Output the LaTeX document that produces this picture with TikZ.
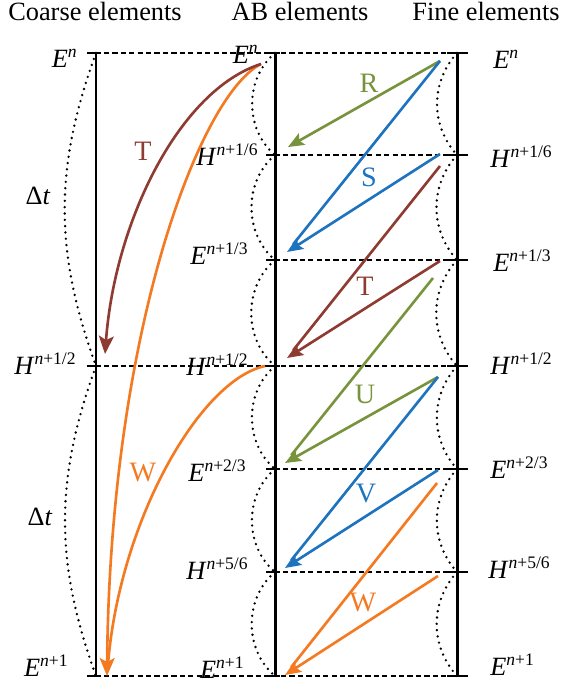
\documentclass[tikz,border=0pt]{standalone}
\usepackage{fontspec}
\setmainfont{Liberation Serif}
\usepackage{tikz}
\usepackage{xcolor}
\usetikzlibrary{arrows.meta, calc}
\definecolor{AB_Green}{HTML}{77933C}
\definecolor{AB_Blue}{HTML}{1E73BE}
\definecolor{AB_Brown}{HTML}{8E3B32}
\definecolor{AB_Orange}{HTML}{F47A22}
% field at a time level: letter, then the superscript after n
\newcommand{\fld}[2]{\textit{#1}\raisebox{0.38em}{\fontsize{10}{10}\selectfont\textit{n}#2}}

\begin{document}
\begin{tikzpicture}[
    x=0.02cm, y=-0.02cm,
    col/.style={line width=1.7pt, black},
    lvl/.style={dash pattern=on 3pt off 1.8pt, line width=0.7pt},
    tick/.style={line width=1.2pt},
    arc/.style={line width=1.5pt, dash pattern=on 0pt off 3.6pt, line cap=round},
    lab/.style={font=\fontsize{15}{18}\selectfont, inner sep=0pt},
    ttl/.style={font=\fontsize{15}{18}\selectfont, inner sep=0pt, anchor=base},
    ltr/.style={font=\fontsize{16}{19}\selectfont, inner sep=0pt},
    grn/.style={draw=AB_Green, line width=1.5pt},
    blu/.style={draw=AB_Blue, line width=1.5pt},
    brn/.style={draw=AB_Brown, line width=1.5pt},
    org/.style={draw=AB_Orange, line width=1.5pt},
    arr/.style={-{Stealth[length=3.2mm, width=2.6mm, inset=0.6mm]}},
    bigarr/.style={-{Stealth[length=3.6mm, width=3mm, inset=0.8mm]}}
]
\useasboundingbox (0,0) rectangle (562,688);

% titles
\node[ttl] (tcoarse) at (95,21) {Coarse elements};
\node[ttl] (tab) at (300,21) {AB elements};
\node[ttl] (tfine) at (486,21) {Fine elements};

% time levels on the three columns
\coordinate (c0) at (96,53);
\coordinate (c3) at (96,366);
\coordinate (c6) at (96,676);
\foreach \k/\y in {0/53,1/155,2/260,3/366,4/469,5/572,6/676} {
    \coordinate (a\k) at (275,\y);
    \coordinate (f\k) at (457,\y);
}

% dashed levels
\foreach \k in {0,3,6}
    \draw[lvl] ($(c\k)+(-9,0)$) -- ($(f\k)+(11,0)$);
\foreach \k in {1,2,4,5}
    \draw[lvl] ($(a\k)+(-9,0)$) -- ($(f\k)+(11,0)$);
\foreach \k in {0,3,6}
    \draw[tick] ($(c\k)+(-9,0)$) -- ($(c\k)+(5,0)$);
\foreach \k in {0,...,6} {
    \draw[tick] ($(a\k)+(-9,0)$) -- ($(a\k)+(5,0)$);
    \draw[tick] ($(f\k)+(-10,0)$) -- ($(f\k)+(11,0)$);
}

% dotted arcs
\draw[arc] (c0) to[bend right=20] (c3);
\draw[arc] (c3) to[bend right=20] (c6);
\foreach \k/\j in {0/1,1/2,2/3,3/4,4/5,5/6} {
    \draw[arc] (a\k) to[bend right=50] (a\j);
    \draw[arc] (f\k) to[bend right=42] (f\j);
}

% columns
\draw[col] (c0) -- (c6);
\draw[col] (a0) -- (a6);
\draw[col] (f0) -- (f6);

% coarse labels
\node[lab, anchor=east] (cE0) at (77,58) {\fld{E}{}};
\node[lab] (dt1) at (38,196) {Δ\textit{t}};
\node[lab, anchor=east] (cH3) at (76,364) {\fld{H}{+1/2}};
\node[lab] (dt2) at (40,517) {Δ\textit{t}};
\node[lab, anchor=east] (cE6) at (68,666) {\fld{E}{+1}};

% AB labels
\node[lab, anchor=east] (aE0) at (258,54) {\fld{E}{}};
\node[lab, anchor=east] (aH1) at (258,155) {\fld{H}{+1/6}};
\node[lab, anchor=east] (aE2) at (248,254) {\fld{E}{+1/3}};
\node[lab, anchor=east] (aH3) at (248,365) {\fld{H}{+1/2}};
\node[lab, anchor=east] (aE4) at (246,471) {\fld{E}{+2/3}};
\node[lab, anchor=east] (aH5) at (248,569) {\fld{H}{+5/6}};
\node[lab, anchor=east] (aE6) at (244,668) {\fld{E}{+1}};

% fine labels
\node[lab, anchor=west] (fE0) at (493,59) {\fld{E}{}};
\node[lab, anchor=west] (fH1) at (490,157) {\fld{H}{+1/6}};
\node[lab, anchor=west] (fE2) at (493,261) {\fld{E}{+1/3}};
\node[lab, anchor=west] (fH3) at (490,364) {\fld{H}{+1/2}};
\node[lab, anchor=west] (fE4) at (490,468) {\fld{E}{+2/3}};
\node[lab, anchor=west] (fH5) at (488,568) {\fld{H}{+5/6}};
\node[lab, anchor=west] (fE6) at (490,665) {\fld{E}{+1}};

% arrow ends
\coordinate (r0) at (440,61);
\coordinate (r1) at (288,147);
\coordinate (s0) at (440,61);
\coordinate (s1) at (440,154);
\coordinate (s2) at (287,252);
\coordinate (t0) at (440,166);
\coordinate (t1) at (440,261);
\coordinate (t2) at (287,358);
\coordinate (u0) at (433,278);
\coordinate (u1) at (438,377);
\coordinate (u2) at (285,463);
\coordinate (v0) at (438,377);
\coordinate (v1) at (438,470);
\coordinate (v2) at (285,568);
\coordinate (w0) at (437,483);
\coordinate (w1) at (438,576);
\coordinate (w2) at (285,675);
\coordinate (ct0) at (261,64);
\coordinate (ct1) at (105,354);
\coordinate (cw0) at (261,64);
\coordinate (cw1) at (265,366);
\coordinate (cw2) at (107,676);

% coarse arrows
\draw[org, bigarr] (cw0) .. controls (200,95) and (110,330) .. (cw2);
\draw[org, shorten >=2.5mm] (cw1) .. controls (200,380) and (120,520) .. (cw2);
\draw[brn, bigarr] (ct0) .. controls (180,90) and (115,220) .. (ct1);
\node[ltr, text=AB_Brown] (lT0) at (143,151) {T};
\node[ltr, text=AB_Orange] (lW0) at (143,473) {W};

% fine to AB arrows
\draw[grn, arr] (r0) -- (r1);
\draw[blu, shorten >=2mm] (s0) -- (s2);
\draw[blu, arr] (s1) -- (s2);
\draw[brn, shorten >=2mm] (t0) -- (t2);
\draw[brn, arr] (t1) -- (t2);
\draw[grn, shorten >=2mm] (u0) -- (u2);
\draw[grn, arr] (u1) -- (u2);
\draw[blu, shorten >=2mm] (v0) -- (v2);
\draw[blu, arr] (v1) -- (v2);
\draw[org, shorten >=2mm] (w0) -- (w2);
\draw[org, arr] (w1) -- (w2);
\node[ltr, text=AB_Green] (lR) at (369,83) {R};
\node[ltr, text=AB_Blue] (lS) at (369,177) {S};
\node[ltr, text=AB_Brown] (lT) at (365,286) {T};
\node[ltr, text=AB_Green] (lU) at (365,394) {U};
\node[ltr, text=AB_Blue] (lV) at (366,494) {V};
\node[ltr, text=AB_Orange] (lW) at (363,603) {W};
\end{tikzpicture}
\end{document}
